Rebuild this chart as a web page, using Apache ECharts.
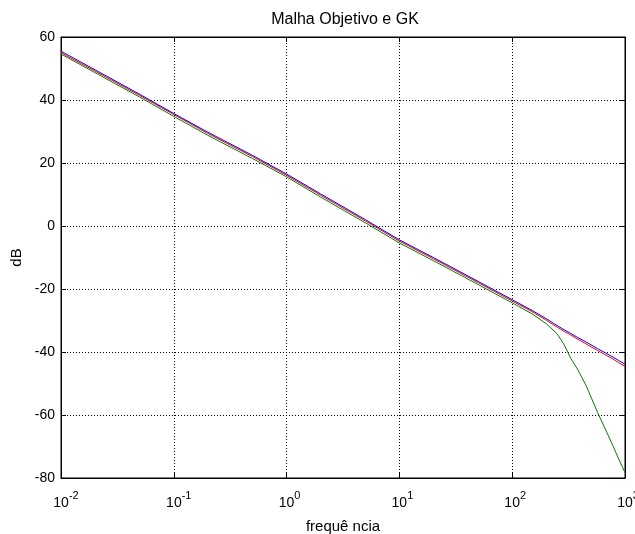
<!DOCTYPE html>
<html>
<head>
<meta charset="utf-8">
<script src="https://cdn.jsdelivr.net/npm/echarts@6/dist/echarts.min.js"></script>
<style>
  html, body { margin: 0; padding: 0; background: #fff; }
  #chart { width: 635px; height: 534px; }
</style>
</head>
<body>
<div id="chart"></div>
<script>
// Frequency points (rad/s) shared by the three magnitude curves
const freq = [0.01, 0.02, 0.05, 0.1, 0.2, 0.5, 1, 2, 5, 10, 20, 50, 100, 150, 200, 250, 290, 330, 380, 450, 570, 680, 780, 880, 1000];

// Magnitude in dB
const malhaObjetivo = [55.5, 49.6, 41.8, 35.7, 29.8, 22.4, 16.5, 10.2, 2.0, -4.4, -10.0, -17.6, -23.4, -26.8, -29.4, -31.6, -33.0, -34.1, -35.4, -36.8, -38.9, -40.4, -41.6, -42.7, -43.9];
const malhaRed = [55.0, 49.2, 41.4, 35.4, 29.4, 22.0, 16.1, 9.8, 1.6, -4.8, -10.4, -18.0, -23.8, -27.2, -29.9, -32.1, -33.5, -34.6, -35.9, -37.4, -39.5, -41.0, -42.2, -43.4, -44.6];
const gk = [54.6, 48.7, 40.9, 34.8, 28.8, 21.4, 15.6, 9.2, 1.0, -5.4, -11.0, -18.6, -24.4, -27.9, -31.0, -34.2, -37.8, -42.0, -45.5, -50.5, -59.1, -65.0, -69.7, -74.0, -78.3];

// Axis ticks
const yTicks = [-80, -60, -40, -20, 0, 20, 40, 60];

const pairs = (ys) => freq.map((f, i) => [f, ys[i]]);

const FONT = 'Liberation Sans, Arial, sans-serif';
const chart = echarts.init(document.getElementById('chart'), null, { renderer: 'canvas' });

const gridLine = { show: true, lineStyle: { color: '#000', type: [1, 2], width: 1 } };
const tickIn = { show: true, inside: true, length: 5, lineStyle: { color: '#000' } };
const frame = { show: true, onZero: false, lineStyle: { color: '#000', width: 1 } };

// Power-of-ten label: the "10" sits on the tick, exponent hangs to the right
function powerLabel(v) {
  const e = Math.round(Math.log10(v));
  const pad = e < 0 ? 'pn' : 'pp';
  return '{' + pad + '| }{b|10}{s|' + e + '}';
}

chart.setOption({
  animation: false,
  backgroundColor: '#fff',
  title: {
    text: 'Malha Objetivo e GK',
    left: 340, top: 7, textAlign: 'center',
    textStyle: { fontFamily: FONT, fontSize: 16, fontWeight: 'normal', color: '#000' }
  },
  grid: {
    left: 61, right: 10, top: 37, bottom: 56,
    outerBoundsMode: 'none', containLabel: false,
    show: true, borderColor: '#000', borderWidth: 1, backgroundColor: 'transparent'
  },
  xAxis: [{
    type: 'log', logBase: 10, min: 0.01, max: 1000,
    name: 'frequê ncia', nameLocation: 'middle', nameGap: 41,
    nameTextStyle: { fontFamily: FONT, fontSize: 15, color: '#000' },
    axisLine: frame,
    axisTick: tickIn,
    minorTick: { show: false },
    splitLine: gridLine,
    axisLabel: {
      margin: 12, color: '#000', hideOverlap: false,
      formatter: powerLabel,
      rich: {
        pn: { fontFamily: FONT, fontSize: 11, width: 10, lineHeight: 20, verticalAlign: 'bottom' },
        pp: { fontFamily: FONT, fontSize: 11, width: 6, lineHeight: 20, verticalAlign: 'bottom' },
        b: { fontFamily: FONT, fontSize: 14, color: '#000', verticalAlign: 'bottom', lineHeight: 20 },
        s: { fontFamily: FONT, fontSize: 11, color: '#000', verticalAlign: 'top', lineHeight: 20 }
      }
    }
  }, {
    type: 'log', logBase: 10, min: 0.01, max: 1000, position: 'top',
    axisLine: frame,
    axisTick: tickIn, axisLabel: { show: false }, splitLine: { show: false }
  }],
  yAxis: [{
    type: 'value', min: -80, max: 60, interval: 20,
    name: 'dB', nameLocation: 'middle', nameGap: 32, nameRotate: 90,
    nameTextStyle: { fontFamily: FONT, fontSize: 15, color: '#000' },
    axisLine: frame,
    axisTick: tickIn,
    splitLine: gridLine,
    axisLabel: { fontFamily: FONT, fontSize: 14, color: '#000', margin: 6,
      formatter: (v) => yTicks.includes(v) ? String(v) : '' }
  }, {
    type: 'value', min: -80, max: 60, interval: 20, position: 'right',
    axisLine: frame,
    axisTick: tickIn, axisLabel: { show: false }, splitLine: { show: false }
  }],
  series: [
    { name: 'GK', type: 'line', data: pairs(gk), showSymbol: false, lineStyle: { color: '#008000', width: 1 }, z: 2 },
    { name: 'Malha', type: 'line', data: pairs(malhaRed), showSymbol: false, lineStyle: { color: '#ff0000', width: 1 }, z: 3 },
    { name: 'Malha Objetivo', type: 'line', data: pairs(malhaObjetivo), showSymbol: false, lineStyle: { color: '#0000ff', width: 1 }, z: 4 }
  ]
});
</script>
</body>
</html>
